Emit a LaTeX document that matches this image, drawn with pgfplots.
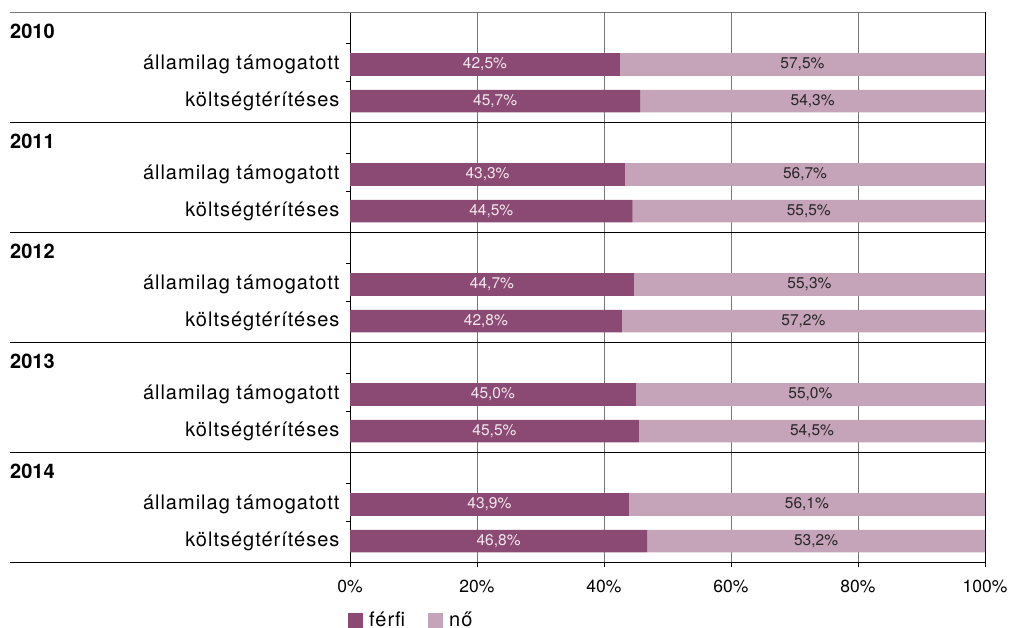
\documentclass[border=0pt]{standalone}
\usepackage{pgfplots}
\pgfplotsset{compat=1.18}
\usepackage{pgfplotstable}
\usepackage{fontspec}
\setmainfont{TeX Gyre Heros}
\newfontfamily\catfamily[LetterSpace=5]{TeX Gyre Heros}
\definecolor{dark}{HTML}{8A4A73}
\definecolor{light}{HTML}{C5A3B9}
\definecolor{gridc}{HTML}{777777}
\definecolor{lbl}{HTML}{F3E6EE}

\pgfplotstableread{
y m f
1 42.5 57.5
2 45.7 54.3
4 43.3 56.7
5 44.5 55.5
7 44.7 55.3
8 42.8 57.2
10 45.0 55.0
11 45.5 54.5
13 43.9 56.1
14 46.8 53.2
}\data

\newcommand{\catfont}{\catfamily\fontsize{20}{22}\selectfont}
\begin{document}
\begin{tikzpicture}
\useasboundingbox (0pt,0pt) rectangle (1011pt,-628pt);
\begin{axis}[
  at={(350pt,-12pt)}, anchor=north west, scale only axis,
  width=635pt, height=550pt,
  xbar stacked, bar width=22.7pt,
  xmin=0, xmax=100, ymin=-0.43, ymax=14.57, y dir=reverse,
  clip=false,
  axis line style={black, line width=0.9pt},
  tick pos=left,
  xtick={0,20,40,60,80,100},
  xticklabels={0\%,20\%,40\%,60\%,80\%,100\%},
  xticklabel style={font=\fontsize{17.5}{18}\selectfont, yshift=-10pt},
  xmajorgrids, grid style={gridc, line width=0.9pt},
  ytick={1,2,4,5,7,8,10,11,13,14},
  yticklabels={államilag támogatott, költségtérítéses, államilag támogatott, költségtérítéses, államilag támogatott, költségtérítéses, államilag támogatott, költségtérítéses, államilag támogatott, költségtérítéses},
  yticklabel style={font=\catfont, anchor=east, xshift=-2pt},
  minor ytick={0.42,1.46,3.42,4.46,6.42,7.46,9.42,10.46,12.42,13.46},
  major y tick style={draw=none},
  minor y tick style={black, line width=0.8pt},
  major x tick style={black, line width=0.8pt},
  tick align=outside, major tick length=5pt, minor tick length=4pt,
  legend style={draw=none, fill=none, at={(axis cs:-0.3,14.57)}, anchor=north west, yshift=-50pt,
    legend columns=2, font=\catfont, nodes={inner sep=0pt},
    /tikz/every odd column/.append style={column sep=6pt},
    /tikz/every even column/.append style={column sep=23pt},
    inner sep=0pt, outer sep=0pt},
  legend image code/.code={\fill[#1] (0pt,-7.5pt) rectangle (15pt,7.5pt);},
]
\addplot[fill=dark, draw=none] table[x=m, y=y] \data;
\addlegendentry{férfi}
\addplot[fill=light, draw=none] table[x=f, y=y] \data;
\addlegendentry{nő}
\draw[gridc, line width=0.9pt] (axis cs:-53.54,-0.43) -- (axis cs:100,-0.43);
\draw[black, line width=0.9pt] (axis cs:-53.54,2.57) -- (axis cs:100,2.57);
\draw[black, line width=0.9pt] (axis cs:-53.54,5.57) -- (axis cs:100,5.57);
\draw[black, line width=0.9pt] (axis cs:-53.54,8.57) -- (axis cs:100,8.57);
\draw[black, line width=0.9pt] (axis cs:-53.54,11.57) -- (axis cs:100,11.57);
\draw[black, line width=0.9pt] (axis cs:-53.54,14.57) -- (axis cs:100,14.57);
\draw[black, line width=0.9pt] (axis cs:100,-0.43) -- (axis cs:100,14.57);
\node[anchor=west, font=\fontsize{20}{22}\selectfont\bfseries, inner sep=0pt] at (axis cs:-53.54,0.09) {2010};
\node[anchor=west, font=\fontsize{20}{22}\selectfont\bfseries, inner sep=0pt] at (axis cs:-53.54,3.09) {2011};
\node[anchor=west, font=\fontsize{20}{22}\selectfont\bfseries, inner sep=0pt] at (axis cs:-53.54,6.09) {2012};
\node[anchor=west, font=\fontsize{20}{22}\selectfont\bfseries, inner sep=0pt] at (axis cs:-53.54,9.09) {2013};
\node[anchor=west, font=\fontsize{20}{22}\selectfont\bfseries, inner sep=0pt] at (axis cs:-53.54,12.09) {2014};
\end{axis}
\begin{axis}[
  at={(350pt,-12pt)}, anchor=north west, scale only axis,
  width=635pt, height=550pt,
  xmin=0, xmax=100, ymin=-0.43, ymax=14.57, y dir=reverse,
  hide axis, clip=false,
  nodes near coords={\pgfmathprintnumber[fixed,fixed zerofill,precision=1,use comma,assume math mode=true]{\pgfplotspointmeta}\%},
  nodes near coords style={anchor=center, font=\fontsize{15.5}{16}\selectfont, inner sep=0pt},
]
\addplot[draw=none, mark=none, nodes near coords style={text=lbl}, point meta=explicit]
  table[x expr=\thisrow{m}/2, y=y, meta=m] \data;
\addplot[draw=none, mark=none, nodes near coords style={text=black!85}, point meta=explicit]
  table[x expr=\thisrow{m}+\thisrow{f}/2, y=y, meta=f] \data;
\end{axis}
\end{tikzpicture}
\end{document}
